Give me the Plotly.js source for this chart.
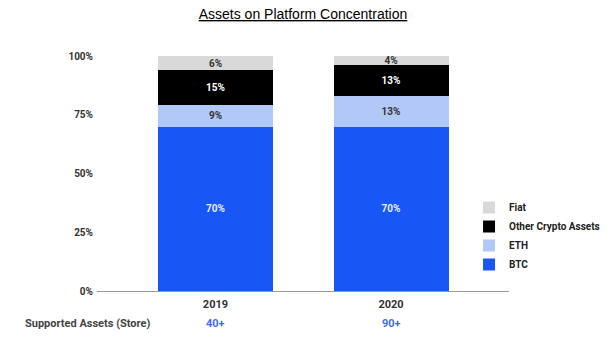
<!DOCTYPE html>
<html><head><meta charset="utf-8">
<script src="https://cdn.plot.ly/plotly-3.0.1.min.js"></script>
<style>html,body{margin:0;padding:0;background:#fff}#c{width:611px;height:352px}</style>
</head><body><div id="c"></div>
<script>
var categories = ['2019', '2020'];
var btc = [70, 70];
var eth = [9, 13];
var other = [15, 13];
var fiat = [6, 4];
var supported = ['40+', '90+'];
var seriesNames = ['BTC', 'ETH', 'Other Crypto Assets', 'Fiat'];
var yTicks = [0, 25, 50, 75, 100];
var yTickLabels = ['0%', '25%', '50%', '75%', '100%'];

var colors = ['#1856f6', '#b2c8f7', '#000000', '#d9d9d9'];
var textColors = ['#e8ecff', '#333333', '#ffffff', '#333333'];
var series = [btc, eth, other, fiat];

var traces = series.map(function (vals, i) {
  return {
    type: 'bar', x: categories, y: vals, name: seriesNames[i],
    marker: {color: colors[i], line: {width: 0}},
    text: vals.map(function (v) { return v + '%'; }),
    textposition: 'inside', insidetextanchor: 'middle', constraintext: 'none',
    textfont: {family: 'Roboto', size: 10, color: textColors[i], weight: 'bold'},
    hoverinfo: 'none', width: 0.655
  };
});

var annotations = [{
  xref: 'paper', yref: 'paper', x: -0.18, y: -0.14, xanchor: 'left', yanchor: 'middle',
  text: '<b>Supported Assets (Store)</b>', showarrow: false,
  font: {family: 'Roboto', size: 11, color: '#444'}
}];
categories.forEach(function (c, i) {
  annotations.push({
    xref: 'x', yref: 'paper', x: i, y: -0.14, xanchor: 'center', yanchor: 'middle',
    text: '<b>' + supported[i] + '</b>', showarrow: false,
    font: {family: 'Roboto', size: 11, color: '#3f6cf3'}
  });
});

var layout = {
  width: 611, height: 352,
  margin: {l: 97, r: 102, t: 56, b: 61, autoexpand: false},
  paper_bgcolor: '#fff', plot_bgcolor: '#fff',
  barmode: 'stack',
  title: {text: '<u>Assets on Platform Concentration</u>', x: 0.5, xref: 'paper', xanchor: 'center', y: 0.96, yanchor: 'middle',
          font: {family: 'Liberation Sans, Arial', size: 14, color: '#000'}},
  xaxis: {type: 'category', range: [-0.675, 1.672], showline: true, linecolor: '#999', linewidth: 1,
          showgrid: false, zeroline: false, ticks: '', ticklabelstandoff: 3,
          tickfont: {family: 'Roboto', size: 11, color: '#333', weight: 'bold'}, fixedrange: true},
  yaxis: {range: [0, 100], tickvals: yTicks, ticktext: yTickLabels, showgrid: false,
          zeroline: false, showline: false, ticks: '', ticklabelstandoff: 3,
          tickfont: {family: 'Roboto', size: 10, color: '#333', weight: 'bold'}, fixedrange: true},
  legend: {x: 0.903, xanchor: 'left', y: 0.417, yanchor: 'top', bgcolor: 'rgba(0,0,0,0)',
           font: {family: 'Roboto', size: 10, color: '#222', weight: 'bold'}},
  uniformtext: {minsize: 10, mode: 'show'},
  annotations: annotations,
  showlegend: true
};

Plotly.newPlot('c', traces, layout, {displayModeBar: false, staticPlot: true});
</script></body></html>
